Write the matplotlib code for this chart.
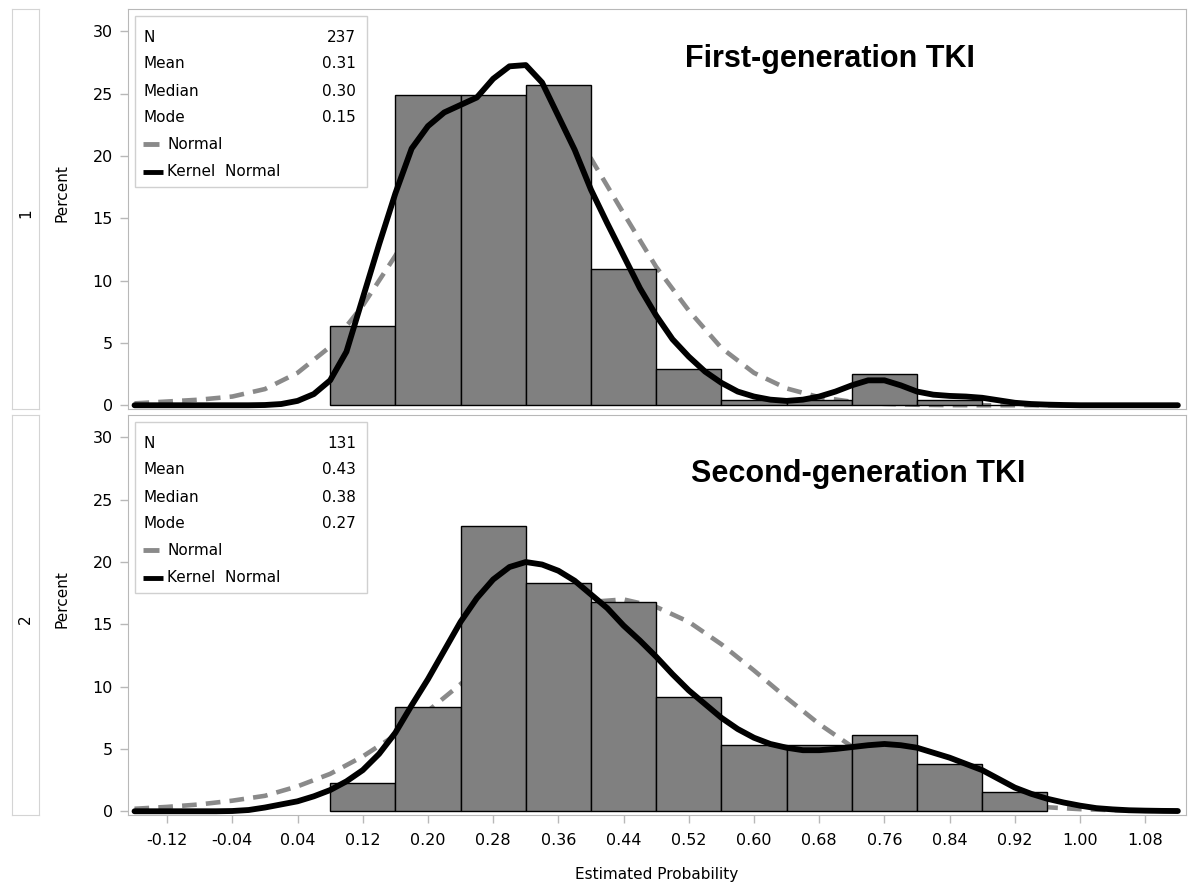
import numpy as np
import matplotlib
matplotlib.use("Agg")
import matplotlib.pyplot as plt
from matplotlib.patches import Rectangle

# histogram bins (left edges, width 0.08)
bin_left = [0.08, 0.16, 0.24, 0.32, 0.40, 0.48, 0.56, 0.64, 0.72, 0.80, 0.88]
pct_first = [6.33, 24.89, 24.89, 25.74, 10.97, 2.95, 0.42, 0.42, 2.53, 0.42, 0.0]
pct_second = [2.29, 8.40, 22.90, 18.32, 16.79, 9.16, 5.34, 5.34, 6.11, 3.82, 1.53]

# curve sample positions
x_norm = np.round(np.arange(-0.16, 1.1201, 0.04), 2)
x_kern = np.round(np.arange(-0.16, 1.1201, 0.02), 2)

normal_first = [0.15, 0.3, 0.45, 0.7, 1.3, 2.6, 4.7, 8.0,
                12.0, 16.6, 20.7, 23.6, 24.5, 23.1, 19.8, 15.4,
                11.1, 7.6, 4.6, 2.6, 1.35, 0.65, 0.28, 0.11,
                0.04, 0.01, 0, 0, 0, 0, 0, 0, 0]
normal_second = [0.2, 0.35, 0.55, 0.85, 1.24, 2.0, 3.0, 4.4,
                 6.1, 8.05, 10.2, 12.4, 14.3, 15.9, 16.8, 17.0,
                 16.4, 15.2, 13.4, 11.3, 9.1, 7.0, 5.2, 3.6,
                 2.45, 1.58, 0.97, 0.57, 0.32, 0.17, 0.09, 0.04, 0.02]

kernel_first = [0, 0, 0, 0, 0, 0, 0, 0,
                0.02, 0.1, 0.35, 0.9, 2.0, 4.3, 8.6, 12.9, 17.0, 20.6, 22.4, 23.5,
                24.1, 24.7, 26.2, 27.2, 27.3, 25.9, 23.2, 20.5, 17.3, 14.6,
                12.0, 9.4, 7.2, 5.3, 3.9, 2.7, 1.8, 1.1, 0.7, 0.45,
                0.35, 0.45, 0.7, 1.1, 1.6, 2.0, 2.0, 1.6, 1.1, 0.85,
                0.75, 0.7, 0.6, 0.4, 0.2, 0.1, 0.05, 0.02,
                0, 0, 0, 0, 0, 0, 0]
kernel_second = [0, 0, 0, 0, 0, 0, 0.02, 0.1,
                 0.3, 0.55, 0.8, 1.2, 1.7, 2.4, 3.3, 4.6, 6.3, 8.5,
                 10.6, 12.9, 15.2, 17.1, 18.6, 19.6, 20.0, 19.8, 19.3, 18.5,
                 17.4, 16.3, 14.9, 13.7, 12.4, 11.0, 9.7, 8.6, 7.5, 6.6,
                 5.9, 5.4, 5.1, 4.9, 4.9, 5.0, 5.15, 5.3, 5.4, 5.3,
                 5.1, 4.7, 4.3, 3.8, 3.3, 2.6, 1.9, 1.4, 1.0, 0.7,
                 0.45, 0.25, 0.15, 0.08, 0.05, 0.03, 0.02]

stats_labels = ["N", "Mean", "Median", "Mode"]
stats_first = ["237", "0.31", "0.30", "0.15"]
stats_second = ["131", "0.43", "0.38", "0.27"]
titles = ["First-generation TKI", "Second-generation TKI"]
strip_labels = ["1", "2"]
xticks = [-0.12, -0.04, 0.04, 0.12, 0.20, 0.28, 0.36, 0.44, 0.52, 0.60,
          0.68, 0.76, 0.84, 0.92, 1.00, 1.08]

frame_col = "#b8b8b8"
bar_col = "#808080"
norm_col = "#8a8a8a"

fig = plt.figure(figsize=(11.88, 8.86), dpi=100)
W, H = 1188.0, 886.0


def px_axes(left, top, right, bottom):
    return fig.add_axes([left / W, 1 - bottom / H, (right - left) / W, (bottom - top) / H])


panels = [
    (9, 409, pct_first, normal_first, kernel_first, stats_first, (0.6635, 0.875)),
    (415, 815, pct_second, normal_second, kernel_second, stats_second, (0.69, 0.852)),
]

for i, (top, bot, pct, norm, kern, stats, tpos) in enumerate(panels):
    # strip box on the left
    sax = px_axes(12, top, 39, bot)
    sax.set_xticks([])
    sax.set_yticks([])
    for s in sax.spines.values():
        s.set_color("#d4d4d4")
    sax.text(0.5, 0.49, strip_labels[i], rotation=90, ha="center", va="center",
             fontsize=11, transform=sax.transAxes)

    ax = px_axes(128, top, 1186, bot)
    ax.plot(x_norm, norm, color=norm_col, lw=3.3, dashes=(3.2, 2.0), zorder=1,
            solid_capstyle="butt")
    ax.bar(bin_left, pct, width=0.08, align="edge", color=bar_col,
           edgecolor="black", linewidth=1.0, zorder=2)
    ax.plot(x_kern, kern, color="black", lw=4.2, zorder=3,
            solid_joinstyle="round", solid_capstyle="round")

    ax.set_xlim(-0.168, 1.130)
    ax.set_ylim(-0.3, 31.8)
    ax.set_yticks([0, 5, 10, 15, 20, 25, 30])
    ax.tick_params(axis="y", direction="out", length=6, width=1, color=frame_col,
                   labelsize=11.5, pad=5)
    for s in ax.spines.values():
        s.set_color(frame_col)
    ax.set_ylabel("Percent", fontsize=11)
    ax.yaxis.set_label_coords(-0.055, 0.54)

    if i == 1:
        ax.set_xticks(xticks)
        ax.set_xticklabels(["%.2f" % v for v in xticks])
        ax.tick_params(axis="x", direction="out", length=6, width=1, color=frame_col,
                       labelsize=11.5, pad=7)
        ax.set_xlabel("Estimated Probability", fontsize=11, labelpad=14)
    else:
        ax.set_xticks([])

    # inset statistics box
    ax.add_patch(Rectangle((0.0066, 0.555), 0.2194, 0.4275, transform=ax.transAxes,
                           facecolor="white", edgecolor="#d0d0d0", lw=1.0, zorder=4))
    rows = [0.93, 0.8625, 0.795, 0.7275]
    for lab, val, ry in zip(stats_labels, stats, rows):
        ax.text(0.0142, ry, lab, transform=ax.transAxes, fontsize=11,
                va="center", ha="left", zorder=5)
        ax.text(0.2155, ry, val, transform=ax.transAxes, fontsize=11,
                va="center", ha="right", zorder=5)
    ax.plot([0.0142, 0.0293], [0.662, 0.662], transform=ax.transAxes,
            color=norm_col, lw=3.5, zorder=5, solid_capstyle="butt")
    ax.text(0.0370, 0.662, "Normal", transform=ax.transAxes, fontsize=11,
            va="center", ha="left", zorder=5)
    ax.plot([0.0142, 0.0330], [0.5925, 0.5925], transform=ax.transAxes,
            color="black", lw=3.5, zorder=5, solid_capstyle="butt")
    ax.text(0.0370, 0.5925, "Kernel  Normal", transform=ax.transAxes, fontsize=11,
            va="center", ha="left", zorder=5)

    ax.text(tpos[0], tpos[1], titles[i], transform=ax.transAxes, fontsize=22,
            fontweight="bold", family="Liberation Sans", ha="center", va="center")

fig.savefig("out.png", dpi=100)
